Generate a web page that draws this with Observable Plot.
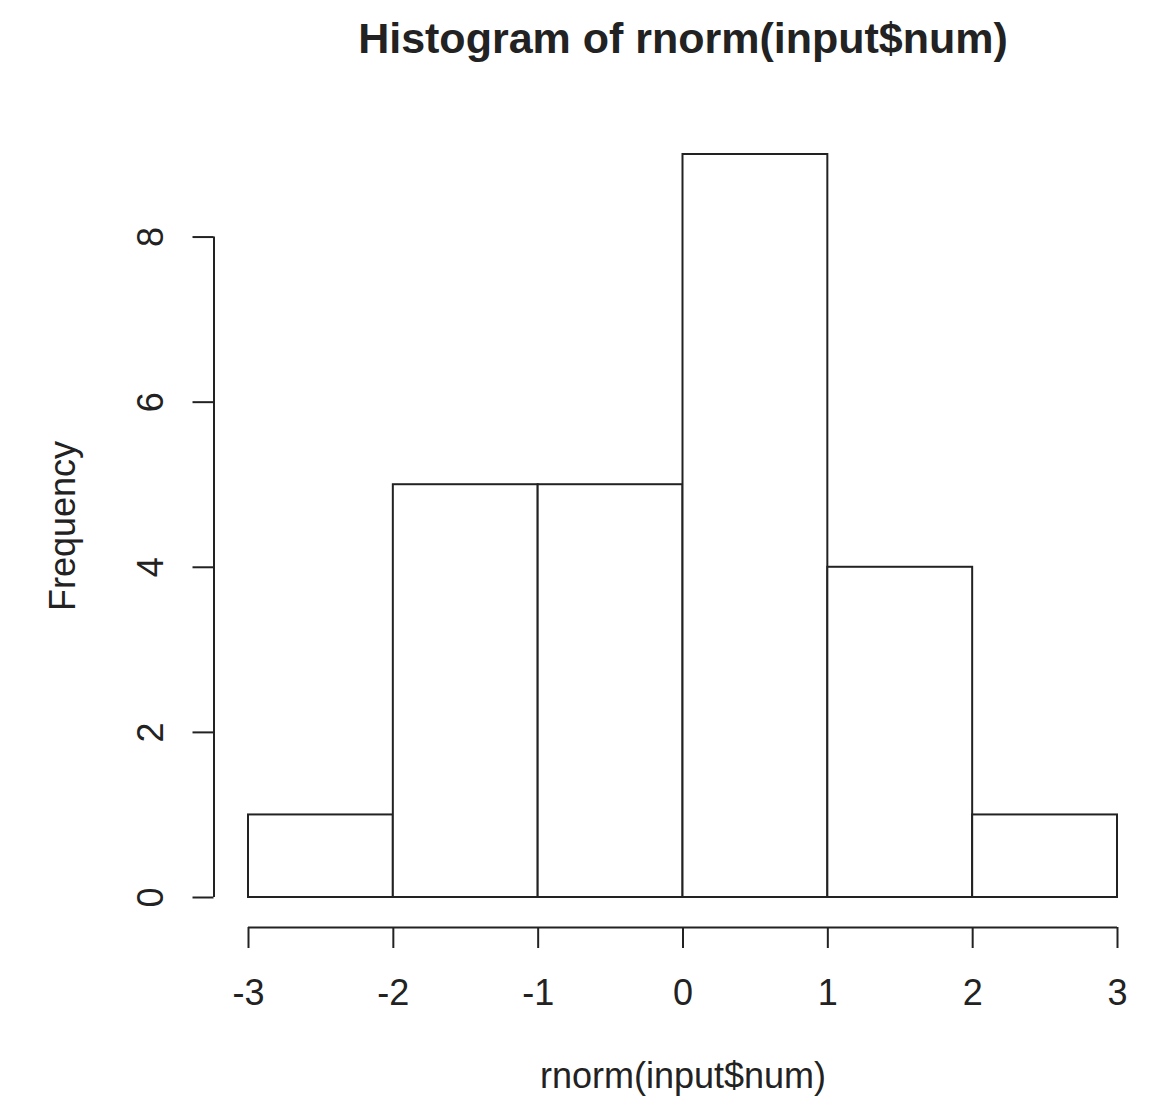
<!DOCTYPE html>
<html>
<head>
<meta charset="utf-8">
<script src="https://cdn.jsdelivr.net/npm/d3@7"></script>
<script src="https://cdn.jsdelivr.net/npm/@observablehq/plot@0.6"></script>
<style>
  html, body { margin: 0; padding: 0; background: #fff; }
  #chart svg { display: block; }
</style>
</head>
<body>
<div id="chart"></div>
<script>
// Data
const binStarts = [-3, -2, -1, 0, 1, 2];
const binEnds   = [-2, -1, 0, 1, 2, 3];
const counts    = [1, 5, 5, 9, 4, 1];
const xTicks = [-3, -2, -1, 0, 1, 2, 3];
const yTicks = [0, 2, 4, 6, 8];
const titleText = "Histogram of rnorm(input$num)";
const xLabel = "rnorm(input$num)";
const yLabel = "Frequency";

const bins = binStarts.map((s, i) => ({x1: s, x2: binEnds[i], count: counts[i]}));

const font = "'Liberation Sans', Arial, Helvetica, sans-serif";
const ink = "#222";

const chart = Plot.plot({
  width: 1149,
  height: 1110,
  marginLeft: 248,
  marginRight: 32,
  marginTop: 154,
  marginBottom: 213,
  style: {fontFamily: font, background: "#fff", color: ink},
  x: {domain: [-3, 3]},
  y: {domain: [0, 9]},
  marks: [
    Plot.rect(bins, {x1: "x1", x2: "x2", y1: () => 0, y2: "count", fill: "white", stroke: ink, strokeWidth: 2}),
    // x axis
    Plot.ruleY([yTicks[0]], {x1: xTicks[0], x2: xTicks[xTicks.length - 1], dy: 30, stroke: ink, strokeWidth: 2}),
    Plot.axisX(xTicks, {anchor: "bottom", tickSize: 21, tickPadding: 31, dy: 30, fontSize: 36, strokeWidth: 2, stroke: ink, fill: ink, label: null, tickFormat: d => String(d)}),
    // y axis
    Plot.ruleX([xTicks[0]], {y1: yTicks[0], y2: yTicks[yTicks.length - 1], dx: -34.5, stroke: ink, strokeWidth: 2}),
    Plot.axisY(yTicks, {anchor: "left", tickSize: 21, tickPadding: 30, dx: -34.5, tickRotate: -90, fontSize: 36, strokeWidth: 2, stroke: ink, fill: ink, label: null, tickFormat: d => String(d)}),
    // labels
    Plot.text([titleText], {frameAnchor: "top", dy: 52 - 154, lineAnchor: "bottom", fontSize: 43, fontWeight: "bold", fill: ink}),
    Plot.text([xLabel], {frameAnchor: "bottom", dy: 1087 - 897, lineAnchor: "bottom", fontSize: 36, fill: ink}),
    Plot.text([yLabel], {frameAnchor: "left", dx: 74 - 248, rotate: -90, textAnchor: "middle", lineAnchor: "bottom", fontSize: 36, fill: ink})
  ]
});

document.getElementById("chart").appendChild(chart);
</script>
</body>
</html>
